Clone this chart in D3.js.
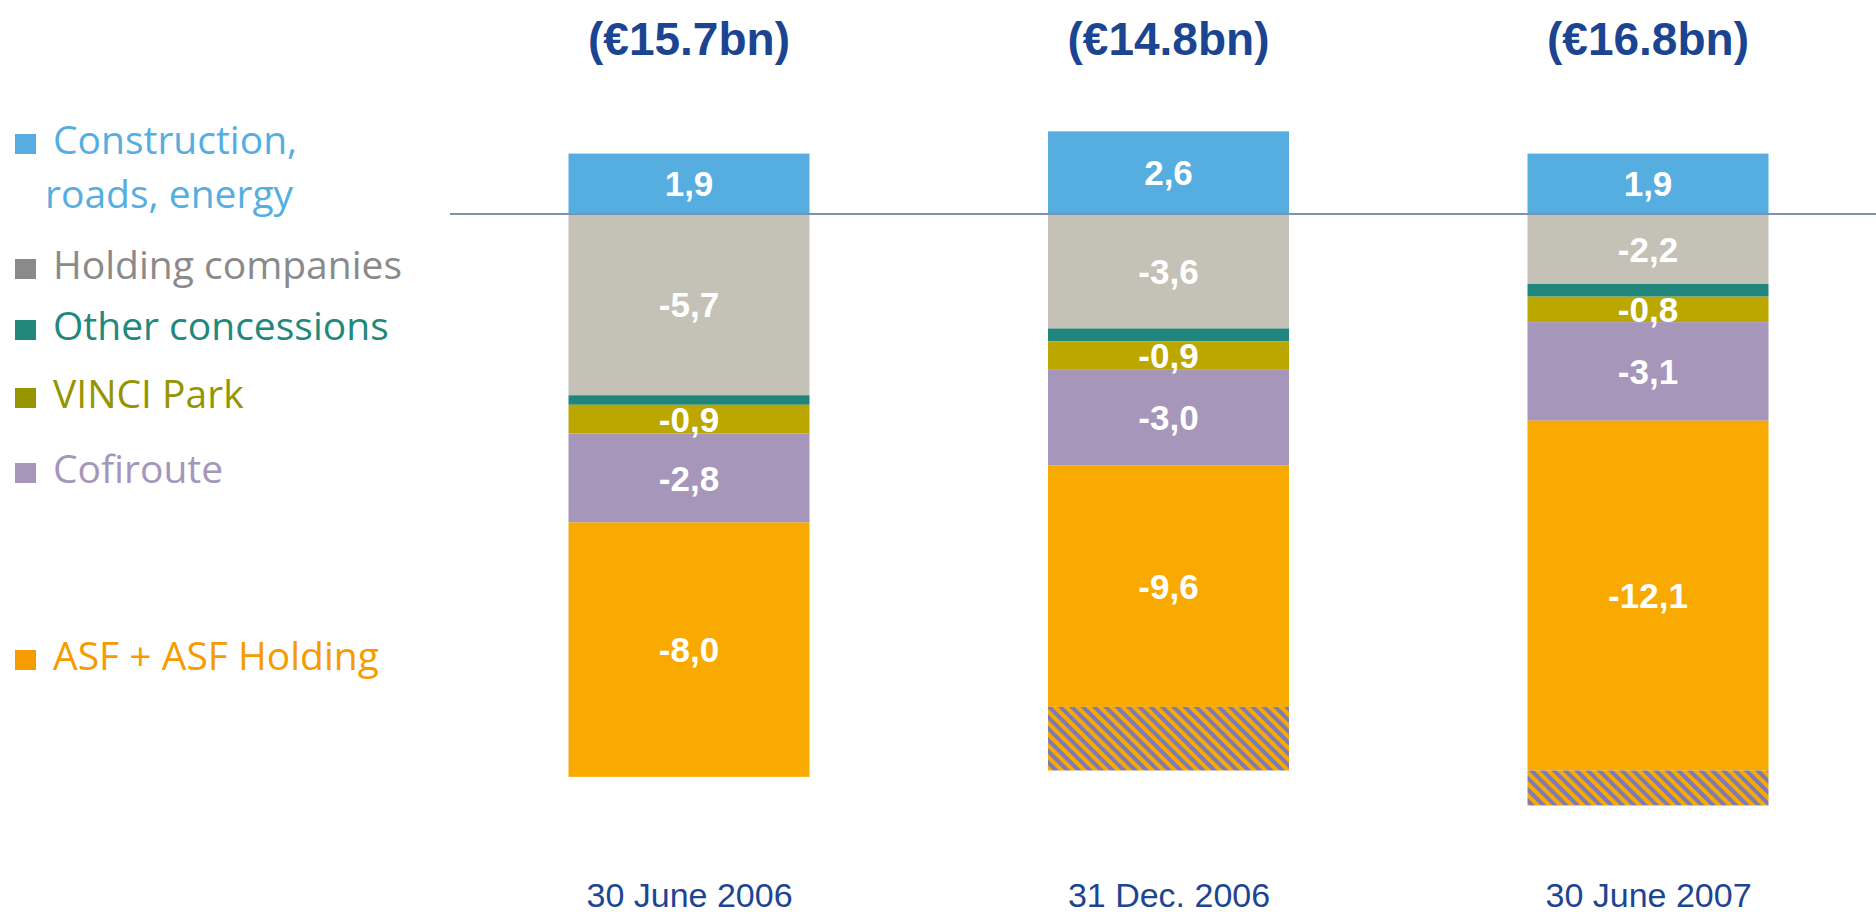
<!DOCTYPE html>
<html>
<head>
<meta charset="utf-8">
<script src="https://cdn.jsdelivr.net/npm/d3@7"></script>
<style>
  html, body { margin: 0; padding: 0; background: #fff; }
  svg { display: block; }
</style>
</head>
<body>
<div id="chart"></div>
<script>
// periods on the x axis
const dates = ['30 June 2006', '31 Dec. 2006', '30 June 2007'];
// total net debt shown above each bar (€bn)
const totals = [15.7, 14.8, 16.8];

// net cash / debt by business (€bn)
const construction = [1.9, 2.6, 1.9];
const holding = [-5.7, -3.6, -2.2];
const otherConcessions = [-0.3, -0.4, -0.4];
const vinciPark = [-0.9, -0.9, -0.8];
const cofiroute = [-2.8, -3.0, -3.1];
const asf = [-8.0, -9.6, -12.1];
// part of the ASF figure drawn hatched
const asfHatched = [0, -2.0, -1.1];

const legendItems = [
  { lines: ['Construction,', 'roads, energy'], color: '#56aee0' },
  { lines: ['Holding companies'], color: '#8a8a8a' },
  { lines: ['Other concessions'], color: '#23887c' },
  { lines: ['VINCI Park'], color: '#959500' },
  { lines: ['Cofiroute'], color: '#a596ba' },
  { lines: ['ASF + ASF Holding'], color: '#f59c00' },
];

function drawChart() {
  const w = 1876;
  const h = 914;

  const svg = d3.select('#chart').append('svg').attr('width', w).attr('height', h);

  // diagonal hatch for the ASF holding part
  const pat = svg.append('defs').append('pattern')
    .attr('id', 'hatch')
    .attr('patternUnits', 'userSpaceOnUse')
    .attr('width', 8).attr('height', 8)
    .attr('patternTransform', 'rotate(-45)');
  pat.append('rect').attr('width', 8).attr('height', 8).attr('fill', '#f9aa00');
  pat.append('rect').attr('width', 4).attr('height', 8).attr('fill', '#7f7ab3');

  const rows = dates.map((d, i) => ({
    date: d,
    construction: construction[i],
    holding: holding[i],
    other: otherConcessions[i],
    vinci: vinciPark[i],
    cofiroute: cofiroute[i],
    asfSolid: asf[i] - asfHatched[i],
    asfHatch: asfHatched[i],
  }));

  const keys = ['construction', 'holding', 'other', 'vinci', 'cofiroute', 'asfSolid', 'asfHatch'];
  const fills = {
    construction: '#56aee0',
    holding: '#c4c2b7',
    other: '#20857b',
    vinci: '#bba700',
    cofiroute: '#a596ba',
    asfSolid: '#f9aa00',
    asfHatch: 'url(#hatch)',
  };
  const labelled = {
    construction: construction,
    holding: holding,
    vinci: vinciPark,
    cofiroute: cofiroute,
    asfSolid: asf,
  };

  const stack = d3.stack().keys(keys).offset(d3.stackOffsetDiverging);
  const series = stack(rows);

  const x = d3.scalePoint().domain(dates).range([689, 1648]);
  const barW = 241;
  const y = d3.scaleLinear().domain([3, -20]).range([118.6, 850]);

  const fmt = (v) => v.toFixed(1).replace('.', ',');

  const groups = svg.selectAll('g.series')
    .data(series)
    .enter()
    .append('g')
    .attr('class', 'series')
    .attr('fill', (s) => fills[s.key]);

  groups.selectAll('rect')
    .data((s) => s.filter((d) => d[1] !== d[0]))
    .enter()
    .append('rect')
    .attr('x', (d) => x(d.data.date) - barW / 2)
    .attr('y', (d) => y(Math.max(d[0], d[1])))
    .attr('width', barW)
    .attr('height', (d) => Math.abs(y(d[0]) - y(d[1])));

  // value labels
  series.filter((s) => labelled[s.key]).forEach((s) => {
    svg.append('g')
      .selectAll('text')
      .data(s)
      .enter()
      .append('text')
      .attr('x', (d) => x(d.data.date))
      .attr('y', (d) => (y(d[0]) + y(d[1])) / 2)
      .attr('dy', '0.36em')
      .attr('text-anchor', 'middle')
      .attr('fill', '#fff')
      .style('font', 'bold 35px "Liberation Sans", Arial, sans-serif')
      .text((d, i) => fmt(labelled[s.key][i]));
  });

  // zero line
  svg.append('line')
    .attr('x1', 450).attr('x2', w)
    .attr('y1', y(0)).attr('y2', y(0))
    .attr('stroke', '#7d93b3')
    .attr('stroke-width', 2);

  // totals above bars
  svg.selectAll('text.total')
    .data(totals)
    .enter()
    .append('text')
    .attr('class', 'total')
    .attr('x', (d, i) => x(dates[i]))
    .attr('y', 55)
    .attr('text-anchor', 'middle')
    .attr('fill', '#1b4491')
    .style('font', 'bold 46px "Liberation Sans", Arial, sans-serif')
    .text((d) => '(€' + d.toFixed(1) + 'bn)');

  // x axis labels (no axis line in the original)
  const xAxis = d3.axisBottom(x).tickSize(0).tickPadding(0);
  const ax = svg.append('g').attr('transform', 'translate(0,880)').call(xAxis);
  ax.select('.domain').remove();
  ax.selectAll('text')
    .attr('dy', 0).attr('y', 27)
    .attr('fill', '#1d4591')
    .style('font', '34px "Liberation Sans", Arial, sans-serif');

  // legend
  const legendY = [154, 279, 340, 408, 483, 670];
  const lg = svg.selectAll('g.legend')
    .data(legendItems)
    .enter()
    .append('g')
    .attr('class', 'legend')
    .attr('transform', (d, i) => 'translate(0,' + legendY[i] + ')');

  lg.append('rect')
    .attr('x', 15).attr('y', -20)
    .attr('width', 21).attr('height', 20)
    .attr('fill', (d) => d.color);

  lg.each(function (d) {
    d3.select(this).selectAll('text')
      .data(d.lines)
      .enter()
      .append('text')
      .attr('x', (t, j) => (j === 0 ? 53 : 45))
      .attr('y', (t, j) => j * 54)
      .attr('fill', d.color)
      .style('font', '39px "Open Sans", "Noto Sans", sans-serif')
      .text((t) => t);
  });
}

window.onload = function () {
  drawChart();
};
</script>
</body>
</html>
